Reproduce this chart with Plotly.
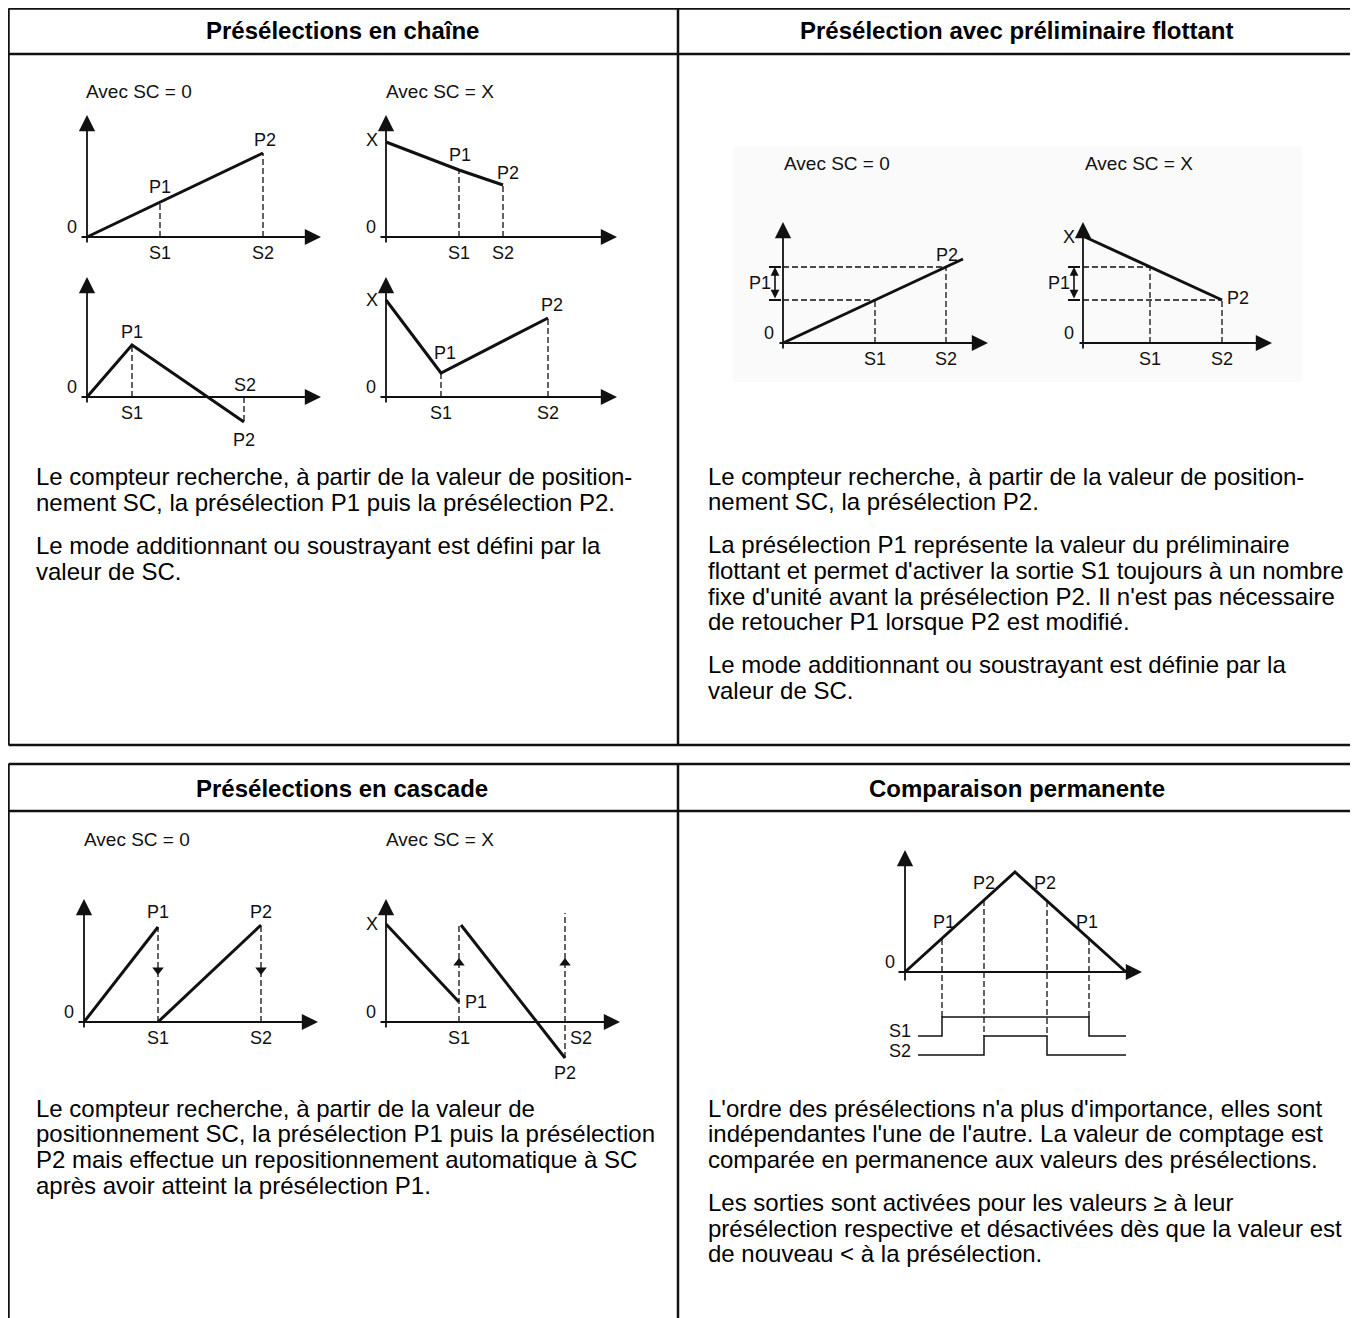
import plotly.graph_objects as go

W, H = 1358, 1318
OFF = 8  # the page body margin shifts the figure by 8 px
BODY = "Arial, Liberation Sans, Helvetica, sans-serif"
NARROW = "Liberation Sans Narrow, Arial Narrow, Liberation Sans, sans-serif"
INK = "#111111"

# ---------------- data: offsets (px) from each diagram's origin, y pointing up
# Présélections en chaîne
chain0_up_x = [0, 73, 176]
chain0_up_y = [0, 35, 84]
chainX_dn_x = [0, 73, 117]
chainX_dn_y = [95, 67, 52]
chain0_pk_x = [0, 45, 157]
chain0_pk_y = [0, 52, -25]
chainX_v_x = [0, 55, 162]
chainX_v_y = [97, 24, 79]

# Présélection avec préliminaire flottant
float0_x = [0, 180]
float0_y = [0, 84]
float0_s = [92, 163]      # S1, S2 positions
float0_lvl = [43, 76]     # P2-P1, P2 levels
floatX_x = [2, 139]
floatX_y = [106, 43]
floatX_s = [67, 139]
floatX_lvl = [76, 43]

# Présélections en cascade
casc0_a_x = [0, 74]
casc0_a_y = [0, 95]
casc0_b_x = [74, 177]
casc0_b_y = [0, 97]
cascX_a_x = [0, 73]
cascX_a_y = [98, 20]
cascX_b_x = [75, 179]
cascX_b_y = [97, -36]

# Comparaison permanente
comp_x = [0, 110, 221]
comp_y = [0, 100, 0]
comp_p1_x = [37, 184]
comp_p1_y = [33, 33]
comp_p2_x = [79, 142]
comp_p2_y = [72, 71]
s1_x = [13, 37, 37, 184, 184, 221]
s1_y = [-64, -64, -45, -45, -64, -64]
s2_x = [13, 79, 79, 142, 142, 221]
s2_y = [-83, -83, -64, -64, -83, -83]

headers = ["Présélections en chaîne", "Présélection avec préliminaire flottant",
           "Présélections en cascade", "Comparaison permanente"]

text_tl = [["Le compteur recherche, à partir de la valeur de position-",
            "nement SC, la présélection P1 puis la présélection P2."],
           ["Le mode additionnant ou soustrayant est défini par la",
            "valeur de SC."]]
text_tr = [["Le compteur recherche, à partir de la valeur de position-",
            "nement SC, la présélection P2."],
           ["La présélection P1 représente la valeur du préliminaire",
            "flottant et permet d'activer la sortie S1 toujours à un nombre",
            "fixe d'unité avant la présélection P2. Il n'est pas nécessaire",
            "de retoucher P1 lorsque P2 est modifié."],
           ["Le mode additionnant ou soustrayant est définie par la",
            "valeur de SC."]]
text_bl = [["Le compteur recherche, à partir de la valeur de",
            "positionnement SC, la présélection P1 puis la présélection",
            "P2 mais effectue un repositionnement automatique à SC",
            "après avoir atteint la présélection P1."]]
text_br = [["L'ordre des présélections n'a plus d'importance, elles sont",
            "indépendantes l'une de l'autre. La valeur de comptage est",
            "comparée en permanence aux valeurs des présélections."],
           ["Les sorties sont activées pour les valeurs ≥ à leur",
            "présélection respective et désactivées dès que la valeur est",
            "de nouveau &lt; à la présélection."]]

fig = go.Figure()
shapes = []
annots = []

def px(x):
    return (x - OFF) / W

def py(y):
    return 1 - (y - OFF) / H

XL, XR, YB, YT = -60, 260, -95, 200


def panel(i, ox, oy):
    xa = "xaxis" if i == 1 else f"xaxis{i}"
    ya = "yaxis" if i == 1 else f"yaxis{i}"
    xr = "x" if i == 1 else f"x{i}"
    yr = "y" if i == 1 else f"y{i}"
    fig.layout[xa] = dict(domain=[px(ox + XL), px(ox + XR)], range=[XL, XR], visible=False,
                          fixedrange=True, anchor=yr)
    fig.layout[ya] = dict(domain=[py(oy - YB), py(oy - YT)], range=[YB, YT], visible=False,
                          fixedrange=True, anchor=xr)
    return xr, yr


def axes(ref, xt, yt, x0=-7, y0=-7):
    xr, yr = ref
    for (x, y, ax, ay) in [(xt, 0, x0, 0), (0, yt, 0, y0)]:
        annots.append(dict(x=x, y=y, ax=ax, ay=ay, xref=xr, yref=yr, axref=xr, ayref=yr,
                           text="", showarrow=True, arrowhead=2, arrowsize=1.8, arrowwidth=1.8,
                           arrowcolor=INK))


def line(ref, xs, ys, w=3, dash=None):
    fig.add_trace(go.Scatter(x=xs, y=ys, xaxis=ref[0], yaxis=ref[1], mode="lines",
                             line=dict(color=INK, width=w, dash=dash), cliponaxis=False,
                             hoverinfo="skip", showlegend=False))


def dashed(ref, xs, ys):
    line(ref, xs, ys, w=1.3, dash="6px,3px")


def label(ref, t, x, y, anchor="center", size=18):
    annots.append(dict(x=x, y=y, xref=ref[0], yref=ref[1], text=t, showarrow=False,
                       xanchor=anchor, yanchor="middle",
                       font=dict(family=NARROW, size=size, color=INK)))


def caption(ref, t, x, y):
    label(ref, t, x, y, anchor="left", size=19)


# ---------------- table frames
def frame(x0, y0, x1, y1, yh, xd, closed=True):
    lw = 2.5
    segs = [(x0, y0, x1, y0), (x0, y0, x0, y1), (x0, yh, x1, yh), (xd, y0, xd, y1)]
    if closed:
        segs.append((x0, y1, x1, y1))
    for a, b, c, d in segs:
        shapes.append(dict(type="line", xref="paper", yref="paper", x0=px(a), y0=py(b),
                           x1=px(c), y1=py(d), line=dict(color=INK, width=lw)))


frame(8.5, 8.5, 1370, 745, 54, 678)
frame(8.5, 764, 1370, 1340, 811, 678, closed=False)

# faint background box behind the floating-preset diagrams
shapes.insert(0, dict(type="rect", xref="paper", yref="paper", x0=px(733), x1=px(1302),
                      y0=py(382), y1=py(147), fillcolor="#fafafa", line=dict(width=0),
                      layer="below"))

for t, cx, cy in zip(headers, [342, 1017, 342, 1017], [31, 31, 788, 788]):
    annots.append(dict(x=px(cx), y=py(cy), xref="paper", yref="paper", text=f"<b>{t}</b>",
                       showarrow=False, xanchor="center", yanchor="middle",
                       font=dict(family=BODY, size=24, color="#000000")))


def paragraphs(blocks, x, y, step=25.8, gap=17):
    for block in blocks:
        for ln in block:
            annots.append(dict(x=px(x), y=py(y), xref="paper", yref="paper", text=ln,
                               showarrow=False, xanchor="left", yanchor="middle",
                               font=dict(family=BODY, size=24, color="#000000")))
            y += step
        y += gap


paragraphs(text_tl, 34, 477)
paragraphs(text_tr, 706, 476)
paragraphs(text_bl, 34, 1108)
paragraphs(text_br, 706, 1108)

# ---------------- Présélections en chaîne
p = panel(1, 87, 237)
axes(p, 234, 122)
line(p, chain0_up_x, chain0_up_y)
dashed(p, [chain0_up_x[1]] * 2, [0, chain0_up_y[1]])
dashed(p, [chain0_up_x[2]] * 2, [0, chain0_up_y[2]])
caption(p, "Avec SC = 0", -3, 145)
label(p, "0", -15, 10)
label(p, "P1", 73, 50)
label(p, "P2", 178, 97)
label(p, "S1", 73, -16)
label(p, "S2", 176, -16)

p = panel(2, 386, 237)
axes(p, 231, 122)
line(p, chainX_dn_x, chainX_dn_y)
dashed(p, [chainX_dn_x[1]] * 2, [0, chainX_dn_y[1]])
dashed(p, [chainX_dn_x[2]] * 2, [0, chainX_dn_y[2]])
caption(p, "Avec SC = X", -2, 145)
label(p, "X", -14, 97)
label(p, "0", -15, 10)
label(p, "P1", 74, 82)
label(p, "P2", 122, 64)
label(p, "S1", 73, -16)
label(p, "S2", 117, -16)

p = panel(3, 87, 397)
axes(p, 234, 120)
line(p, chain0_pk_x, chain0_pk_y)
dashed(p, [chain0_pk_x[1]] * 2, [0, chain0_pk_y[1]])
dashed(p, [chain0_pk_x[2]] * 2, [0, chain0_pk_y[2]])
label(p, "0", -15, 10)
label(p, "P1", 45, 65)
label(p, "S1", 45, -16)
label(p, "S2", 158, 12)
label(p, "P2", 157, -43)

p = panel(4, 386, 397)
axes(p, 231, 120)
line(p, chainX_v_x, chainX_v_y)
dashed(p, [chainX_v_x[1]] * 2, [0, chainX_v_y[1]])
dashed(p, [chainX_v_x[2]] * 2, [0, chainX_v_y[2]])
label(p, "X", -14, 97)
label(p, "0", -15, 10)
label(p, "P1", 59, 44)
label(p, "P2", 166, 92)
label(p, "S1", 55, -16)
label(p, "S2", 162, -16)

# ---------------- Présélection avec préliminaire flottant
def bracket(ref, x, lo, hi):
    xr, yr = ref
    annots.append(dict(x=x, y=hi, ax=x, ay=lo, xref=xr, yref=yr, axref=xr, ayref=yr, text="",
                       showarrow=True, arrowhead=2, startarrowhead=2, arrowside="end+start",
                       arrowsize=1.1, startarrowsize=1.1, arrowwidth=1.6, arrowcolor=INK))
    for lv in (lo, hi):
        line(ref, [x - 6, x + 6], [lv, lv], w=2)


p = panel(5, 783, 343)
axes(p, 205, 121, x0=-5)
line(p, float0_x, float0_y)
dashed(p, [0, float0_s[1]], [float0_lvl[1]] * 2)
dashed(p, [0, float0_s[0]], [float0_lvl[0]] * 2)
dashed(p, [float0_s[0]] * 2, [0, float0_lvl[0]])
dashed(p, [float0_s[1]] * 2, [0, float0_lvl[1]])
bracket(p, -8, float0_lvl[0], float0_lvl[1])
caption(p, "Avec SC = 0", -1, 180)
label(p, "0", -14, 10)
label(p, "P1", -23, 60)
label(p, "P2", 164, 88)
label(p, "S1", 92, -16)
label(p, "S2", 163, -16)

p = panel(6, 1083, 343)
axes(p, 189, 121, x0=-5)
line(p, floatX_x, floatX_y)
dashed(p, [0, floatX_s[0]], [floatX_lvl[0]] * 2)
dashed(p, [0, floatX_s[1]], [floatX_lvl[1]] * 2)
dashed(p, [floatX_s[0]] * 2, [0, floatX_lvl[0]])
dashed(p, [floatX_s[1]] * 2, [0, floatX_lvl[1]])
bracket(p, -9, floatX_lvl[1], floatX_lvl[0])
caption(p, "Avec SC = X", 0, 180)
label(p, "X", -14, 106)
label(p, "0", -14, 10)
label(p, "P1", -24, 60)
label(p, "P2", 155, 45)
label(p, "S1", 67, -16)
label(p, "S2", 139, -16)

# ---------------- Présélections en cascade
def marker(ref, x, y, sym):
    fig.add_trace(go.Scatter(x=[x], y=[y], xaxis=ref[0], yaxis=ref[1], mode="markers",
                             marker=dict(symbol=sym, size=10, color=INK), cliponaxis=False,
                             hoverinfo="skip", showlegend=False))


p = panel(7, 84, 1022)
axes(p, 234, 123)
line(p, casc0_a_x, casc0_a_y)
line(p, casc0_b_x, casc0_b_y)
dashed(p, [casc0_a_x[1]] * 2, [0, casc0_a_y[1]])
dashed(p, [casc0_b_x[1]] * 2, [0, casc0_b_y[1]])
marker(p, casc0_a_x[1], 52, "triangle-down")
marker(p, casc0_b_x[1], 52, "triangle-down")
caption(p, "Avec SC = 0", -2, 183)
label(p, "0", -15, 10)
label(p, "P1", 74, 110)
label(p, "P2", 177, 110)
label(p, "S1", 74, -16)
label(p, "S2", 177, -16)

p = panel(8, 386, 1022)
axes(p, 234, 123)
line(p, cascX_a_x, cascX_a_y)
line(p, cascX_b_x, cascX_b_y)
dashed(p, [cascX_a_x[1]] * 2, [0, cascX_b_y[0]])
dashed(p, [cascX_b_x[1]] * 2, [cascX_b_y[1], 109])
marker(p, cascX_a_x[1], 59, "triangle-up")
marker(p, cascX_b_x[1], 59, "triangle-up")
caption(p, "Avec SC = X", -2, 183)
label(p, "X", -14, 98)
label(p, "0", -15, 10)
label(p, "P1", 77, 20, anchor="left")
label(p, "S1", 73, -16)
label(p, "S2", 182, -16, anchor="left")
label(p, "P2", 179, -51)

# ---------------- Comparaison permanente
p = panel(9, 905, 972)
axes(p, 237, 122, x0=-8, y0=-10)
line(p, comp_x, comp_y)
for xs, ys, bot in [(comp_p1_x, comp_p1_y, -45), (comp_p2_x, comp_p2_y, -64)]:
    for xx, yy in zip(xs, ys):
        dashed(p, [xx, xx], [yy, bot])
line(p, s1_x, s1_y, w=1.5)
line(p, s2_x, s2_y, w=1.5)
label(p, "0", -15, 10)
label(p, "P1", 39, 50)
label(p, "P2", 79, 89)
label(p, "P2", 140, 89)
label(p, "P1", 182, 50)
label(p, "S1", 8, -59, anchor="right")
label(p, "S2", 8, -79, anchor="right")

fig.update_layout(width=W, height=H, margin=dict(l=0, r=0, t=0, b=0),
                  paper_bgcolor="white", plot_bgcolor="rgba(0,0,0,0)",
                  shapes=shapes, annotations=annots, showlegend=False)
fig.write_html("out.html")
